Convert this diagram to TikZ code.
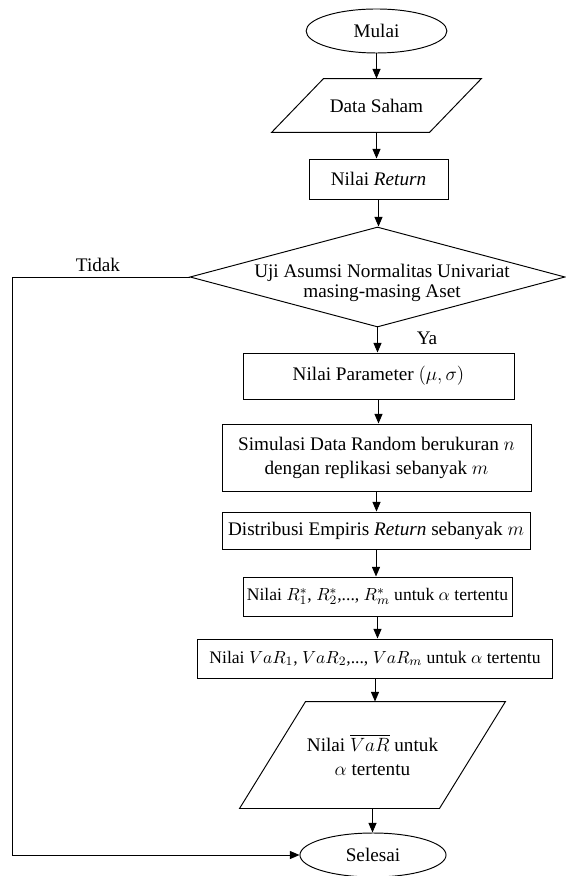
\documentclass[tikz,border=0pt]{standalone}
\usepackage{fontspec}
\setmainfont{Liberation Serif}
\usetikzlibrary{shapes.geometric,arrows.meta}
\tikzset{
  every node/.style={font=\fontsize{12}{15}\selectfont},
  terminal/.style={draw,ellipse,inner sep=0pt},
  io/.style={rectangle,inner sep=0pt,align=center},
  box/.style={draw,rectangle,inner sep=0pt,align=center},
  narrow/.style={font=\fontsize{11}{14}\selectfont},
  decision/.style={draw,diamond,inner sep=0pt},
  flow/.style={-{Triangle[length=6pt,width=5pt]}},
}
% parallelogram round an io node: name, slant
\newcommand{\ioframe}[2]{%
  \draw ([xshift=#2]#1.north west) -- (#1.north east)
    -- ([xshift=-#2]#1.south east) -- (#1.south west) -- cycle;}

\begin{document}
\begin{tikzpicture}[x=0.625pt,y=-0.625pt,line width=0.6pt]
\useasboundingbox (0,0) rectangle (565,876);
\node[terminal,minimum width=88pt,minimum height=27.5pt] (start) at (376.5,31) {Mulai};
\node[io,minimum width=130.6pt,minimum height=33.1pt] (data) at (376.5,105.5) {Data Saham};
\ioframe{data}{32.5pt}
\node[box,minimum width=86.9pt,minimum height=25pt] (ret) at (378.5,179) {Nilai \textit{Return}};
\node[decision,minimum width=234.4pt,minimum height=62.5pt] (test) at (377.5,277) {};
\node[align=center,font=\fontsize{12}{12.5}\selectfont] (testtext) at (382,283)
  {Uji Asumsi Normalitas Univariat\\masing-masing Aset};
\node[box,minimum width=169.4pt,minimum height=28.75pt] (param) at (378.5,376) {Nilai Parameter $(\mu,\sigma)$};
\node[box,minimum width=193.1pt,minimum height=41.9pt] (sim) at (376.5,457.5)
  {Simulasi Data Random berukuran $n$\\dengan replikasi sebanyak $m$};
\node[box,minimum width=192.5pt,minimum height=23.1pt] (dist) at (376,530.5)
  {Distribusi Empiris \textit{Return} sebanyak $m$};
\node[box,narrow,minimum width=168.1pt,minimum height=24.4pt] (rval) at (377.5,596.5)
  {Nilai $R_1^*$, $R_2^*$,..., $R_m^*$ untuk $\alpha$ tertentu};
\node[box,narrow,minimum width=221.3pt,minimum height=24.4pt] (var) at (375,658.5)
  {Nilai $VaR_1$, $VaR_2$,..., $VaR_m$ untuk $\alpha$ tertentu};
\node[io,minimum width=165.6pt,minimum height=66.25pt] (mean) at (372.5,755)
  {Nilai $\overline{VaR}$ untuk\\$\alpha$ tertentu};
\ioframe{mean}{41.25pt}
\node[terminal,minimum width=91.3pt,minimum height=27.5pt] (stop) at (373,855) {Selesai};
\node (no) at (98,265) {Tidak};
\node (yes) at (427,338) {Ya};
\coordinate (corner) at (12,277);

\foreach \a/\b in {start/data,data/ret,ret/test,test/param,param/sim,sim/dist,dist/rval,rval/var,var/mean,mean/stop}
  \draw[flow] (\a) -- (\a |- \b.north);
\draw[flow] (test.west) -- (corner) |- (stop);
\end{tikzpicture}
\end{document}
